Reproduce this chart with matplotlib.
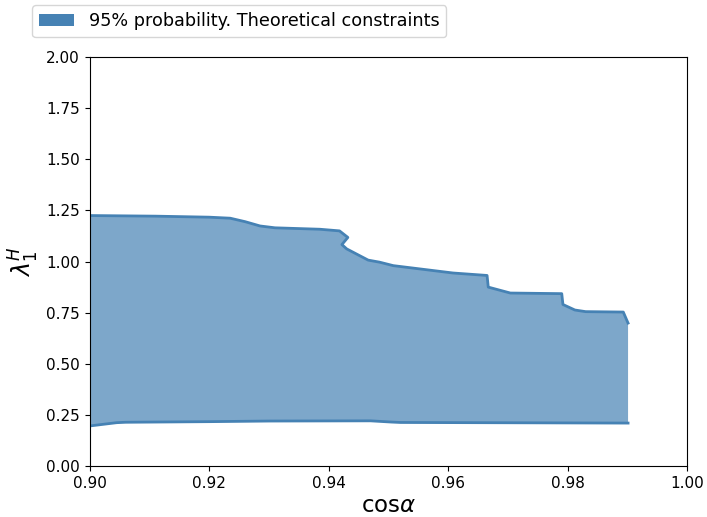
import matplotlib
matplotlib.use('Agg')
import matplotlib.pyplot as plt
from matplotlib.patches import Patch
import numpy as np

# upper boundary of the 95% region (cos alpha, lambda_1^H)
upper_x = [0.900, 0.911, 0.920, 0.9235, 0.926, 0.9285, 0.931, 0.9385, 0.9418, 0.9432,
           0.9422, 0.943, 0.9466, 0.9485, 0.9508, 0.9608, 0.9665, 0.9667, 0.9704,
           0.979, 0.9792, 0.9812, 0.983, 0.9893, 0.9901]
upper_y = [1.225, 1.222, 1.217, 1.212, 1.195, 1.174, 1.165, 1.158, 1.150, 1.118,
           1.083, 1.062, 1.007, 0.997, 0.980, 0.944, 0.932, 0.875, 0.846,
           0.843, 0.790, 0.763, 0.755, 0.753, 0.699]

# lower boundary
lower_x = [0.900, 0.9045, 0.906, 0.920, 0.930, 0.947, 0.9505, 0.952, 0.9901]
lower_y = [0.196, 0.212, 0.214, 0.217, 0.220, 0.221, 0.215, 0.213, 0.210]

color = '#4682B4'

fig = plt.figure(figsize=(7.07, 5.17), dpi=100)
ax = fig.add_axes([0.127, 0.0986, 0.845, 0.791])

poly_x = upper_x + lower_x[::-1]
poly_y = upper_y + lower_y[::-1]
ax.fill(poly_x, poly_y, color=color, alpha=0.7, linewidth=0)
ax.plot(upper_x, upper_y, color=color, linewidth=2)
ax.plot(lower_x, lower_y, color=color, linewidth=2)

ax.set_xlim(0.9, 1.0)
ax.set_ylim(0, 2)
ax.set_xticks(np.arange(0.90, 1.001, 0.02))
ax.set_yticks(np.arange(0, 2.001, 0.25))
ax.tick_params(labelsize=11)
ax.set_xlabel(r'cos$\alpha$', fontsize=16.5, labelpad=2)
ax.set_ylabel(r'$\lambda_1^H$', fontsize=17)

handle = Patch(facecolor=color, edgecolor='none', label='95% probability. Theoretical constraints')
fig.legend(handles=[handle], loc='upper left', bbox_to_anchor=(0.033, 1.007), fontsize=12.7)

plt.savefig('out.png', dpi=100)
